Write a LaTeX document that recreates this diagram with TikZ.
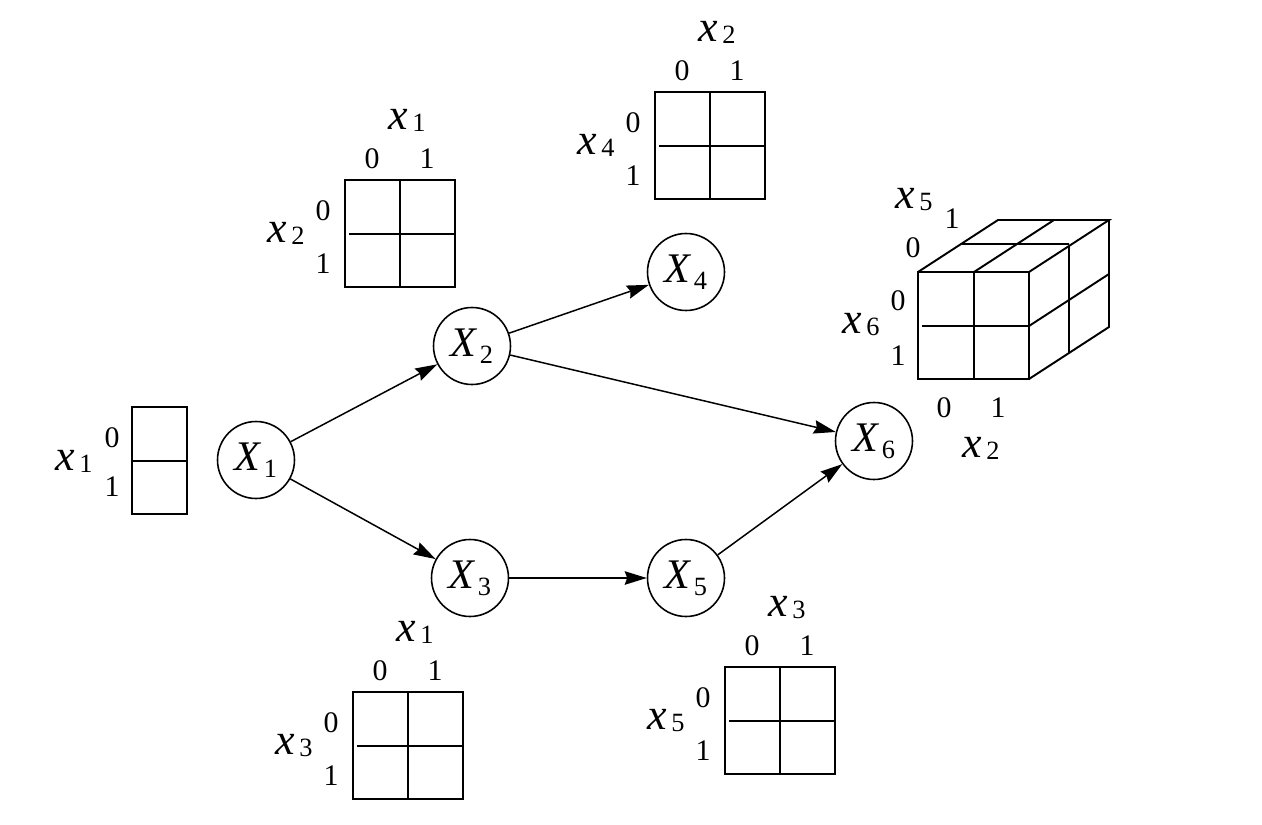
\documentclass[tikz,border=0pt]{standalone}
\usepackage{fontspec}
\setmainfont{Liberation Serif}
\usetikzlibrary{arrows.meta, positioning}

\newcommand{\nodevar}[1]{{\fontsize{24}{24}\selectfont\textit{X}}\hspace{1pt}\raisebox{-4pt}{\fontsize{15}{15}\selectfont #1}}
\newcommand{\tabvar}[1]{{\fontsize{25}{25}\selectfont\textit{x}}\hspace{2.5pt}\raisebox{-1.5pt}{\fontsize{15}{15}\selectfont #1}}

\begin{document}
\begin{tikzpicture}[x=0.02cm, y=-0.02cm]
    % Define styles
    \tikzset{
        var/.style={circle, draw, line width=0.9pt, minimum size=1.54cm, inner sep=0pt},
        link/.style={-{Stealth[length=4.4mm, width=2.7mm, inset=0.5mm]}, line width=0.85pt},
        cpt/.style={line width=1.1pt},
        lbl/.style={anchor=base, inner sep=0pt},
        val/.style={lbl, font=\fontsize{17}{17}\selectfont}
    }
    \useasboundingbox (0,0) rectangle (1262,825);

    % Variables
    \node[var] (X1) at (256,460) {\nodevar{1}};
    \node[var] (X2) at (472,346) {\nodevar{2}};
    \node[var] (X3) at (470,578) {\nodevar{3}};
    \node[var] (X4) at (686,272) {\nodevar{4}};
    \node[var] (X5) at (686,578) {\nodevar{5}};
    \node[var] (X6) at (874,441) {\nodevar{6}};

    % Arcs
    \draw[link] (X1) -- (X2);
    \draw[link] (X1) -- (X3);
    \draw[link] (X2) -- (X4);
    \draw[link] (X2) -- (X6);
    \draw[link] (X3) -- (X5);
    \draw[link] (X5) -- (X6);

    % Table of X1
    \draw[cpt] (132,407) rectangle (187,514);
    \draw[cpt] (132,461) -- (187,461);
    \node[lbl] (t1-row) at (74,470) {\tabvar{1}};
    \node[val] (t1-r0) at (112,447) {0};
    \node[val] (t1-r1) at (112,496) {1};

    % Tables of X2, X4, X3, X5
    \foreach \nm/\tx/\ty/\cs/\rs in {t2/345/180/1/2, t4/655/92/2/4, t3/353/692/1/3, t5/725/667/3/5} {
        \draw[cpt] (\tx,\ty) rectangle ++(110,107);
        \draw[cpt] (\tx+55,\ty) -- ++(0,107) (\tx+4,\ty+54) -- (\tx+110,\ty+54);
        \node[lbl] (\nm-col) at (\tx+62,\ty-51) {\tabvar{\cs}};
        \node[val] (\nm-c0) at (\tx+27,\ty-12) {0};
        \node[val] (\nm-c1) at (\tx+82,\ty-12) {1};
        \node[lbl] (\nm-row) at (\tx-59,\ty+62) {\tabvar{\rs}};
        \node[val] (\nm-r0) at (\tx-22,\ty+40) {0};
        \node[val] (\nm-r1) at (\tx-22,\ty+93) {1};
    }

    % Table of X6 (cube)
    \draw[cpt] (918,272) rectangle (1029,379);
    \draw[cpt] (974,272) -- (974,379) (922,326) -- (1029,326);
    \draw[cpt] (918,272) -- (998,220) -- (1109,220) -- (1029,272);
    \draw[cpt] (1109,220) -- (1109,327) -- (1029,379);
    \draw[cpt] (974,272) -- (1054,220) (962,244) -- (1069,244);
    \draw[cpt] (1069,246) -- (1069,353) (1029,326) -- (1109,274);
    \node[lbl] (t6-dep) at (914,208) {\tabvar{5}};
    \node[val] (t6-d1) at (952,228) {1};
    \node[val] (t6-d0) at (913,257) {0};
    \node[lbl] (t6-row) at (861,333) {\tabvar{6}};
    \node[val] (t6-r0) at (898,310) {0};
    \node[val] (t6-r1) at (898,365) {1};
    \node[val] (t6-c0) at (944,417) {0};
    \node[val] (t6-c1) at (998,417) {1};
    \node[lbl] (t6-col) at (981,457) {\tabvar{2}};
\end{tikzpicture}
\end{document}
